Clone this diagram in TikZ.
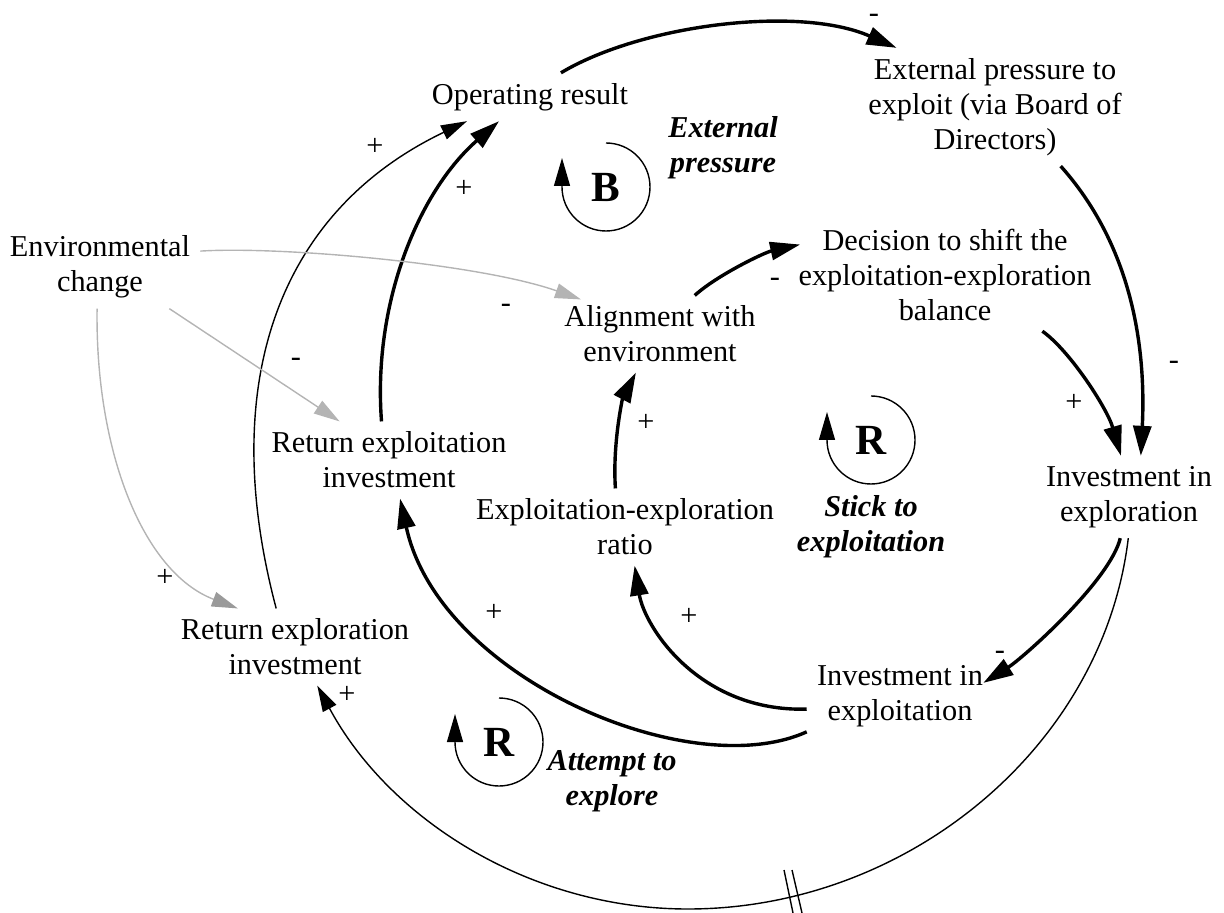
\documentclass[tikz,border=0pt]{standalone}
\usepackage{fontspec}
\setmainfont{Liberation Serif}
\usetikzlibrary{arrows.meta}

\definecolor{envgray}{HTML}{B4B4B4}
\definecolor{headgray}{HTML}{9A9A9A}
\newcommand{\cldsize}{\fontsize{15.15}{17.5}\selectfont}

\tikzstyle{varbox} = [
    align=center,
    inner sep=5pt
]
\tikzstyle{loopname} = [
    align=center,
    inner sep=0pt,
    font=\cldsize\bfseries\itshape
]
\tikzstyle{looptag} = [
    inner sep=0pt,
    font=\fontsize{21.5}{24}\selectfont\bfseries
]
\tikzstyle{polarity} = [inner sep=0pt]
\tikzstyle{mainlink} = [line width=1.7pt,-{Triangle[length=15pt,width=9pt]}]
\tikzstyle{sidelink} = [line width=0.7pt,-{Triangle[length=13pt,width=7.5pt]}]
\tikzstyle{envlink} = [sidelink, draw=envgray]
\tikzstyle{loopmark} = [line width=0.7pt,-{Triangle[length=14pt,width=8pt]}]

\begin{document}
\begin{tikzpicture}[x=0.5pt, y=-0.5pt, font=\cldsize]

\useasboundingbox (0,0) rectangle (1224,913);

% variables
\node (opres) [varbox] at (530,97) {Operating result};
\node (extp) [varbox] at (995,107)
{External pressure to\\exploit (via Board of\\Directors)};
\node (env) [varbox] at (100,267) {Environmental\\change};
\node (decis) [varbox] at (945,275)
{Decision to shift the\\exploitation-exploration\\balance};
\node (alignenv) [varbox] at (660,334) {Alignment with\\environment};
\node (retexploit) [varbox] at (389,460) {Return exploitation\\investment};
\node (ratio) [varbox] at (625,527) {Exploitation-exploration\\ratio};
\node (invexpl) [varbox] at (1129,497) {Investment in\\exploration};
\node (invexploit) [varbox] at (900,696) {Investment in\\exploitation};
\node (retexplor) [varbox] at (295,647) {Return exploration\\investment};

% loops
\node (bloop) [looptag] at (606,187) {B};
\node (rstick) [looptag] at (871,440) {R};
\node (rattempt) [looptag] at (499,742) {R};
\node (extlbl) [loopname] at (723,148) {External\\pressure};
\node (sticklbl) [loopname] at (871,527) {Stick to\\exploitation};
\node (attemptlbl) [loopname] at (612,781) {Attempt to\\explore};

\draw [loopmark] ([yshift=22pt]bloop.center)
    arc[start angle=90, end angle=-180, radius=22pt] -- ++(0pt,14.5pt);
\draw [loopmark] ([yshift=22pt]rstick.center)
    arc[start angle=90, end angle=-180, radius=22pt] -- ++(0pt,14pt);
\draw [loopmark] ([yshift=22pt]rattempt.center)
    arc[start angle=90, end angle=-180, radius=22pt] -- ++(0pt,14pt);

% links
\draw [mainlink] (opres.38) .. controls +(80,-48) and +(-98,-43) .. (extp.149);
\draw [mainlink] (extp.-42) .. controls +(75,84) and +(5,-100) .. (invexpl.74);
\draw [mainlink] (decis.-30) .. controls +(27,19) and +(-14,-48) .. (invexpl.101);
\draw [mainlink] (invexpl.-102) .. controls +(-10,42) and +(40,-25) .. ([xshift=-5pt]invexploit.8);
\draw [mainlink] (invexploit.201) .. controls +(-117,53) and +(39,179) .. (retexploit.-74);
\draw [mainlink] (invexploit.188) .. controls +(-107,3) and +(10,62) .. (ratio.-76);
\draw [mainlink] (ratio.104) .. controls +(-3,-46) and +(-13,25) .. (alignenv.238);
\draw [mainlink] (alignenv.48) .. controls +(22,-20) and +(-36,8) .. ([xshift=6pt]decis.169);
\draw [mainlink] (retexploit.101) .. controls +(-9,-119) and +(-80,70) .. (opres.218);
\draw [sidelink] (retexplor.116) .. controls +(-60,-226) and +(-188,90) .. (opres.201);
\draw [sidelink] (invexpl.-91) .. controls +(-25,209) and +(219,0) .. (688,909)
    .. controls +(-158,0) and +(72,134) .. (retexplor.-60);
\draw [line width=0.7pt] (784,870) -- (793,913) (792,870) -- (802,913);
\draw [envlink] (env.9) .. controls +(80,-5) and +(-102,-36) .. ([yshift=-2pt]alignenv.154);
\draw [envlink] (env.-31) -- (retexploit.142);
\draw [envlink,-{Triangle[length=13pt,width=7.5pt,color=headgray]}]
    (env.-94) .. controls +(-2,142) and +(-95,-36) .. (retexplor.146);

% polarities
\node (p1) [polarity] at (874,18) {-};
\node (p2) [polarity] at (1174,365) {-};
\node (p3) [polarity] at (1074,403) {+};
\node (p4) [polarity] at (1000,655) {-};
\node (p5) [polarity] at (347,695) {+};
\node (p6) [polarity] at (494,613) {+};
\node (p7) [polarity] at (689,617) {+};
\node (p8) [polarity] at (646,423) {+};
\node (p9) [polarity] at (775,282) {-};
\node (p10) [polarity] at (464,189) {+};
\node (p11) [polarity] at (375,147) {+};
\node (p12) [polarity] at (506,308) {-};
\node (p13) [polarity] at (296,362) {-};
\node (p14) [polarity] at (165,578) {+};

\end{tikzpicture}
\end{document}
